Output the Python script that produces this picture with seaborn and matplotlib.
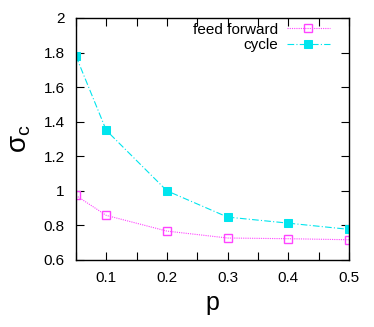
import pandas as pd
import matplotlib
matplotlib.use("Agg")
import matplotlib.pyplot as plt
import seaborn as sns
from matplotlib.ticker import MultipleLocator

p = [0.05, 0.1, 0.2, 0.3, 0.4, 0.5]
feed_forward = [0.973, 0.858, 0.767, 0.727, 0.723, 0.717]
cycle = [1.78, 1.35, 1.0, 0.848, 0.813, 0.777]

df_ff = pd.DataFrame({"p": p, "sigma": feed_forward})
df_cy = pd.DataFrame({"p": p, "sigma": cycle})

sns.set_style("ticks")
plt.rcParams['font.family'] = ['Liberation Sans', 'DejaVu Sans']
plt.rcParams['text.color'] = 'black'
plt.rcParams['axes.labelcolor'] = 'black'
plt.rcParams['xtick.color'] = 'black'
plt.rcParams['ytick.color'] = 'black'

fig = plt.figure(figsize=(3.74, 3.27), dpi=100)
ax = fig.add_axes([0.203, 0.205, 0.73, 0.74])

sns.lineplot(data=df_ff, x="p", y="sigma", ax=ax, color="#ff44ff", linestyle=(0, (1, 1)),
             linewidth=0.8, marker="s", markersize=5.5, markerfacecolor="none",
             markeredgecolor="#ff44ff", markeredgewidth=1.0, label="feed forward")
sns.lineplot(data=df_cy, x="p", y="sigma", ax=ax, color="#00e5ee", linestyle=(0, (6, 2, 1, 2)),
             linewidth=0.8, marker="s", markersize=5.5, markerfacecolor="#00e5ee",
             markeredgecolor="#00e5ee", label="cycle")

ax.set_xlim(0.05, 0.5)
ax.set_ylim(0.6, 2.0)
ax.xaxis.set_minor_locator(MultipleLocator(0.05))
ax.set_yticks([0.6, 0.8, 1.0, 1.2, 1.4, 1.6, 1.8, 2.0])
ax.set_yticklabels(["0.6", "0.8", "1", "1.2", "1.4", "1.6", "1.8", "2"])
ax.set_xticks([0.1, 0.2, 0.3, 0.4, 0.5])
ax.set_xticklabels(["0.1", "0.2", "0.3", "0.4", "0.5"])
ax.tick_params(which="both", direction="in", top=True, right=True, labelsize=11, width=0.8)
ax.tick_params(which="major", length=6, pad=8)
ax.tick_params(which="minor", length=6)
for s in ax.spines.values():
    s.set_linewidth(1.0)
    s.set_color("black")

ax.set_xlabel("p", fontsize=18, labelpad=4)
ax.set_ylabel(r"σ$_\mathregular{c}$", fontsize=20, labelpad=8)

ax.legend(loc="upper right", bbox_to_anchor=(0.946, 1.0), frameon=False,
          markerfirst=False, fontsize=11, handlelength=2.8, borderaxespad=0.0,
          borderpad=0.3, labelspacing=0.1, handletextpad=0.6)

fig.savefig("out.png", dpi=100)
